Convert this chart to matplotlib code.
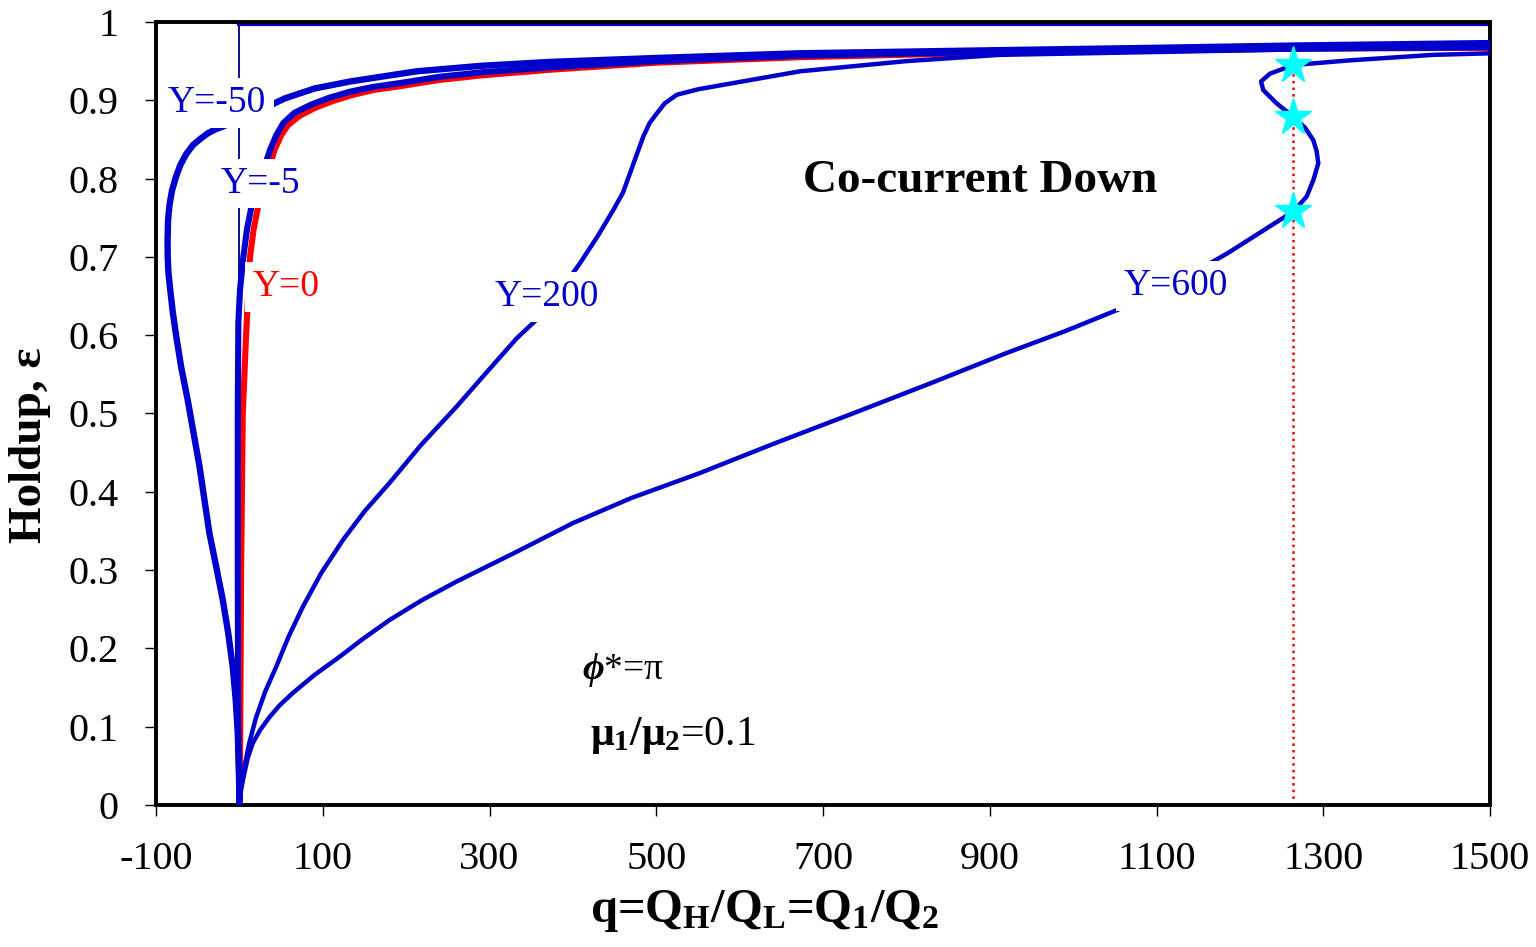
import matplotlib
matplotlib.use("Agg")
import matplotlib.pyplot as plt

plt.rcParams["font.family"] = ["Liberation Serif", "DejaVu Serif"]
plt.rcParams["axes.unicode_minus"] = False
plt.rcParams["mathtext.fontset"] = "custom"
plt.rcParams["mathtext.rm"] = "Liberation Serif"
plt.rcParams["mathtext.it"] = "Liberation Serif:italic"
plt.rcParams["mathtext.bf"] = "Liberation Serif:bold"
plt.rcParams["mathtext.bfit"] = "Liberation Serif:italic:bold"

# holdup curves, eps vs q, for several Y values
q_m50 = [0, -0.5, -2, -4.5, -8, -13.5, -20, -28, -36, -48, -62, -70, -76, -80,
         -83, -85.2, -86, -86.2, -85.6, -83.8, -80.8, -76.5, -71, -64, -55.6,
         -46.5, -37.6, -28.5, -20.8, 20, 54.7, 90, 132.7, 212.7, 290, 372.6,
         500, 672, 912, 1100, 1272, 1500]
eps_m50 = [0, 0.04, 0.092, 0.135, 0.176, 0.22, 0.262, 0.305, 0.347, 0.433, 0.517,
           0.56, 0.6, 0.63, 0.658, 0.68, 0.7, 0.72, 0.747, 0.767, 0.785, 0.801,
           0.817, 0.831, 0.843, 0.851, 0.858, 0.863, 0.866, 0.885, 0.9025, 0.915,
           0.924, 0.937, 0.944, 0.949, 0.954, 0.960, 0.964, 0.967, 0.970, 0.973]

q_m5 = [0, -1.5, -2, -2, -1.3, 0.7, 4.7, 9, 14.8, 25, 36.7, 44, 52.7, 66, 85,
        107, 132.7, 160, 192.6, 240, 292.6, 372.6, 500, 672, 912, 1272, 1500]
eps_m5 = [0, 0.1, 0.3, 0.5, 0.616, 0.658, 0.70, 0.735, 0.766, 0.80, 0.8365, 0.855,
          0.871, 0.884, 0.894, 0.903, 0.911, 0.917, 0.922, 0.930, 0.936, 0.942,
          0.950, 0.957, 0.962, 0.966, 0.968]

q_0 = [0, 1, 2, 4, 8, 12.7, 17, 22.7, 32, 42, 50, 58, 72, 90, 112, 132.7, 160,
       192.6, 240, 292.6, 372.6, 500, 672, 912, 1272, 1500]
eps_0 = [0, 0.1, 0.3, 0.5, 0.6, 0.70, 0.735, 0.766, 0.80, 0.8365, 0.855, 0.868,
         0.880, 0.890, 0.899, 0.906, 0.913, 0.918, 0.926, 0.932, 0.939, 0.948,
         0.955, 0.961, 0.966, 0.967]

q_200 = [0, 2, 6, 12, 20, 31, 43.9, 59, 76, 98, 123.9, 150, 179.8, 218, 259.8,
         296, 332.6, 360.6, 385, 408.5, 430, 448.5, 460, 468.5, 477, 484.5, 492,
         500.5, 510, 524.5, 550, 592.4, 672.4, 800, 912, 1272, 1500]
eps_200 = [0, 0.022, 0.049, 0.08, 0.112, 0.145, 0.176, 0.215, 0.253, 0.296, 0.338,
           0.375, 0.411, 0.46, 0.508, 0.552, 0.596, 0.624, 0.657, 0.692, 0.727,
           0.760, 0.782, 0.807, 0.832, 0.854, 0.871, 0.883, 0.896, 0.907, 0.914,
           0.922, 0.937, 0.950, 0.958, 0.965, 0.967]

q_600 = [0, 2, 6, 10, 16, 25, 35.9, 48, 64, 90, 119.8, 148, 179.8, 218, 259.8,
         330, 400, 470, 552.5, 640, 735.6, 830, 919.5, 990, 1057, 1125, 1185.7,
         1230, 1264, 1280, 1288, 1294, 1292, 1288, 1278, 1264, 1244, 1228, 1225.3,
         1236, 1264, 1332, 1432, 1500]
eps_600 = [0, 0.02, 0.041, 0.06, 0.079, 0.096, 0.112, 0.127, 0.143, 0.166, 0.189,
           0.212, 0.236, 0.261, 0.285, 0.322, 0.36, 0.392, 0.424, 0.461, 0.500,
           0.539, 0.577, 0.605, 0.634, 0.668, 0.705, 0.735, 0.758, 0.777, 0.798,
           0.8195, 0.835, 0.849, 0.865, 0.879, 0.896, 0.913, 0.924, 0.934, 0.945,
           0.951, 0.958, 0.960]

# limiting case: eps = 1 line
q_lim_v, eps_lim_v = [0, 0], [0, 1]
q_lim_h, eps_lim_h = [0, 1500], [0.997, 0.997]

# multiple solutions at q = 1264
q_star = 1264
eps_star = [0.758, 0.879, 0.945]

blue = "#0000CC"

fig = plt.figure(figsize=(15.36, 9.47), dpi=100)
ax = fig.add_axes([0.1016, 0.150, 0.8685, 0.8268])

ax.plot(q_lim_v, eps_lim_v, color="#10108A", lw=1.4, zorder=2)
ax.plot(q_lim_h, eps_lim_h, color=blue, lw=3.0, zorder=2, clip_on=False)
ax.plot(q_0, eps_0, color="red", lw=4.4, zorder=2)
ax.plot(q_m5, eps_m5, color=blue, lw=4.4, zorder=3)
ax.plot(q_200, eps_200, color=blue, lw=3.2, zorder=3)
ax.plot(q_600, eps_600, color=blue, lw=3.2, zorder=3)
ax.plot(q_m50, eps_m50, color=blue, lw=4.6, zorder=3)

ax.plot([q_star, q_star], [0, eps_star[-1]], color="red", ls=":", lw=1.8, zorder=2)
ax.plot([q_star] * 3, eps_star, ls="none", marker="*", ms=28, color="#00FFFF",
        mec="#00FFFF", zorder=4)

box = dict(facecolor="white", edgecolor="none", boxstyle="square,pad=0.2")
for txt, x, y, c in [("Y=-50", -26.8, 0.8966, blue), ("Y=-5", 24.7, 0.794, blue),
                     ("Y=0", 55.9, 0.6616, "red"), ("Y=200", 369, 0.649, blue),
                     ("Y=600", 1123.4, 0.663, blue)]:
    ax.text(x, y, txt, color=c, fontsize=27, ha="center", va="center", bbox=box, zorder=5)

ax.text(888, 0.797, "Co-current Down", fontsize=34, fontweight="bold",
        ha="center", va="center", zorder=5)
ax.text(411, 0.172, r"$\mathbfit{\phi}$*=π", fontsize=27, ha="left", va="center", zorder=5)
ax.text(420.5, 0.089, r"$\mathbf{\mu_1/\mu_2}$=0.1", fontsize=30, ha="left",
        va="center", zorder=5)

ax.set_xlim(-100, 1500)
ax.set_ylim(0, 1)
ax.set_xticks(range(-100, 1501, 200))
ax.set_yticks([i / 10 for i in range(11)])
ax.set_yticklabels(["0"] + ["%.1f" % (i / 10) for i in range(1, 10)] + ["1"])
ax.tick_params(direction="out", length=8, width=1.0, labelsize=29)
ax.tick_params(axis="y", pad=19)
ax.tick_params(axis="x", pad=18)
for s in ax.spines.values():
    s.set_linewidth(2.8)

ax.set_ylabel("Holdup, ε", fontsize=34, fontweight="bold")
ax.yaxis.set_label_coords(-0.079, 0.46)
ax.set_xlabel(r"q=Q$_\mathbf{H}$/Q$_\mathbf{L}$=Q$_\mathbf{1}$/Q$_\mathbf{2}$",
              fontsize=35, fontweight="bold")
ax.xaxis.set_label_coords(0.4565, -0.106)

fig.savefig("out.png", dpi=100)
